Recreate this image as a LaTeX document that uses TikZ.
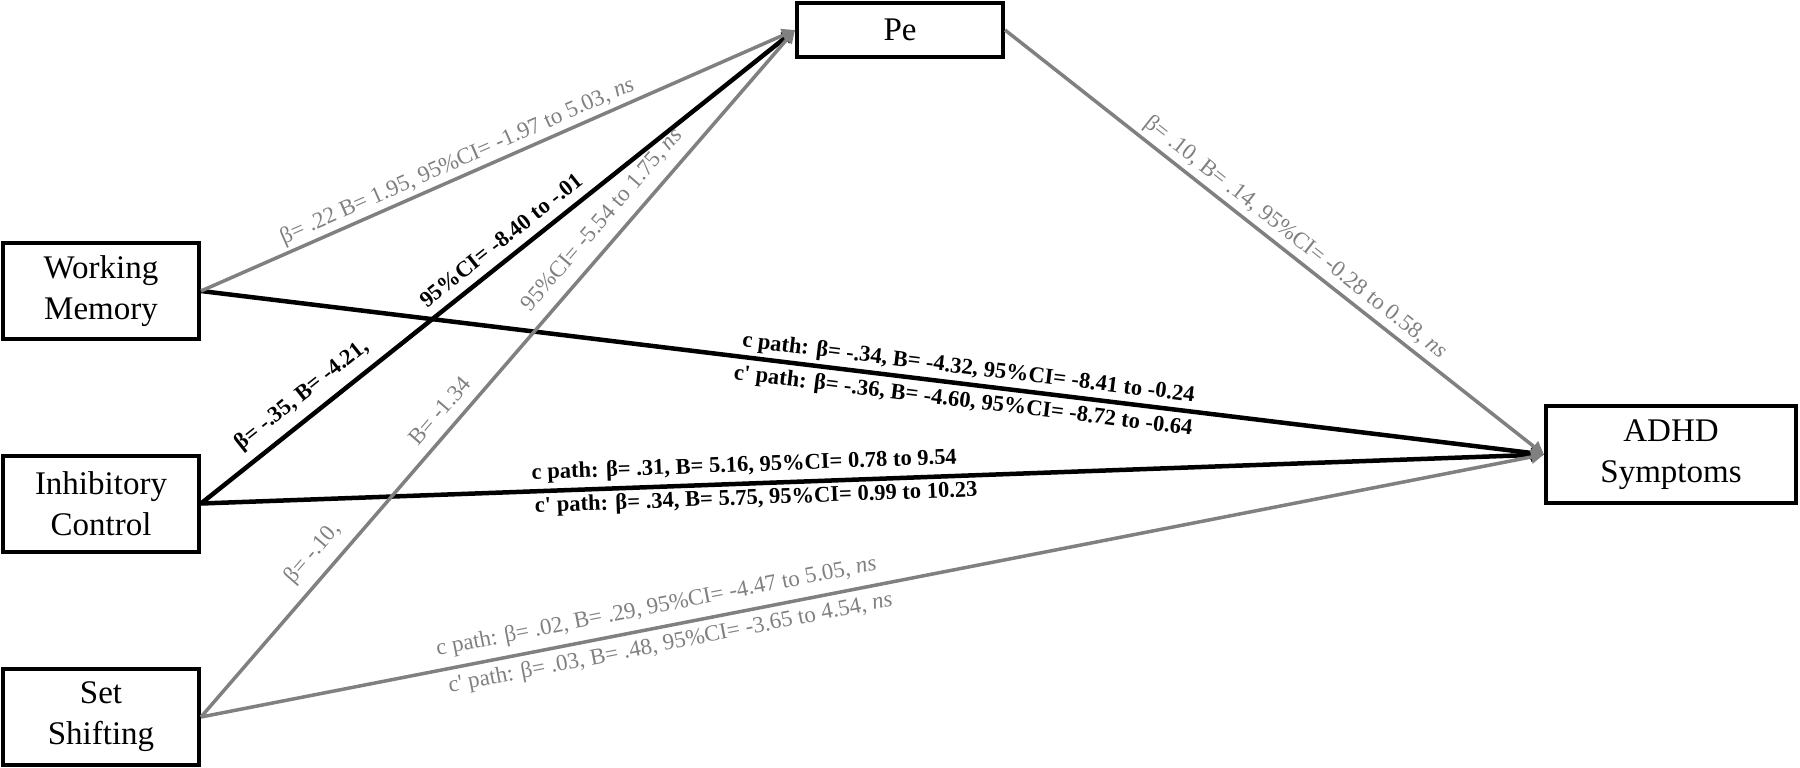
\documentclass[tikz,border=0pt]{standalone}
\usepackage{fontspec}
\setmainfont{Liberation Serif}
\usetikzlibrary{arrows.meta}
\definecolor{arrgray}{RGB}{128,128,128}
\begin{document}
\begin{tikzpicture}[x=1pt,y=-1pt,
  box/.style={draw=black, line width=4pt, inner sep=0pt, align=center,
    font=\fontsize{33}{41}\selectfont},
  blk/.style={draw=black, line width=4.5pt, -{Triangle[length=13pt,width=13pt]}},
  gry/.style={draw=arrgray, line width=3.5pt, -{Triangle[length=13pt,width=13pt]}},
  blab/.style={sloped, font=\fontsize{22.5}{26}\bfseries\selectfont, inner xsep=0pt, inner ysep=3pt},
  glab/.style={sloped, text=arrgray, font=\fontsize{23}{26}\selectfont, inner xsep=0pt, inner ysep=3pt},
]
\useasboundingbox (0,0) rectangle (1800,768);

\node[box, minimum width=196pt, minimum height=96pt] (wm) at (101,291) {Working\\Memory};
\node[box, minimum width=196pt, minimum height=96pt] (ic) at (101,503.5) {Inhibitory\\Control};
\node[box, minimum width=196pt, minimum height=96pt] (ss) at (101,717) {Set\\Shifting};
\node[box, minimum width=206pt, minimum height=54pt] (pe) at (900,30) {Pe};
\node[box, minimum width=250pt, minimum height=97pt] (adhd) at (1671,454.5) {ADHD\\Symptoms};

% black paths
\draw[blk] (ic.east) --
  node[blab, above, pos=0.193, inner ysep=9pt] {β= -.35, B= -4.21,}
  node[blab, above, pos=0.525, inner ysep=9pt] {95\%CI= -8.40 to -.01}
  (pe.west);
\draw[blk] (wm.east) --
  node[blab, above, pos=0.570] {c path: β= -.34, B= -4.32, 95\%CI= -8.41 to -0.24}
  node[blab, below, pos=0.569, inner ysep=5pt] {c\textquotesingle{} path: β= -.36, B= -4.60, 95\%CI= -8.72 to -0.64}
  (adhd.west);
\draw[blk] (ic.east) --
  node[blab, above, pos=0.405, inner ysep=5pt] {c path: β= .31, B= 5.16, 95\%CI= 0.78 to 9.54}
  node[blab, below, pos=0.413] {c\textquotesingle{} path: β= .34, B= 5.75, 95\%CI= 0.99 to 10.23}
  (adhd.west);

% gray paths
\draw[gry] (wm.east) --
  node[glab, above, pos=0.442] {β= .22 B= 1.95, 95\%CI= -1.97 to 5.03, \textit{ns}}
  (pe.west);
\draw[gry] (ss.east) --
  node[glab, above, pos=0.217, inner ysep=10pt] {β= -.10,}
  node[glab, above, pos=0.427, inner ysep=10pt] {B= -1.34}
  node[glab, above, pos=0.703, inner ysep=10pt] {95\%CI= -5.54 to 1.75, \textit{ns}}
  (pe.west);
\draw[gry] (ss.east) --
  node[glab, above, pos=0.342, inner ysep=8pt] {c path: β= .02, B= .29, 95\%CI= -4.47 to 5.05, \textit{ns}}
  node[glab, below, pos=0.347, inner ysep=6pt] {c\textquotesingle{} path: β= .03, B= .48, 95\%CI= -3.65 to 4.54, \textit{ns}}
  (adhd.west);
\draw[gry] (pe.east) --
  node[glab, above, pos=0.52, inner ysep=4pt] {β= .10, B= .14, 95\%CI= -0.28 to 0.58, \textit{ns}}
  (adhd.west);
\end{tikzpicture}
\end{document}
